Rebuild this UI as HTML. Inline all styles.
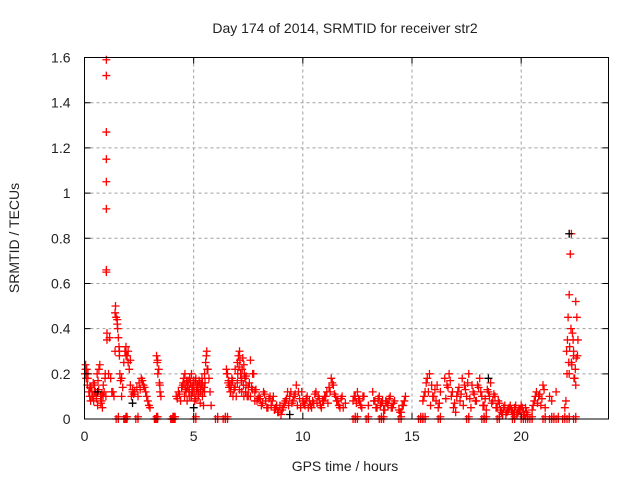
<!DOCTYPE html>
<html><head><meta charset="utf-8"><style>
body{margin:0;background:#fff}
svg text{font-family:"Liberation Sans",sans-serif;font-size:14px;fill:#222}
</style></head><body>
<svg id="chart" width="640" height="480" viewBox="0 0 640 480">
<text x="345" y="33" text-anchor="middle">Day 174 of 2014, SRMTID for receiver str2</text>
<text x="345" y="471" text-anchor="middle">GPS time / hours</text>
<text transform="translate(19,238) rotate(-90)" text-anchor="middle">SRMTID / TECUs</text>
<g id="grid"></g>
<g id="marks"></g>
<g id="marksK"></g>
<rect x="84.5" y="57.5" width="524" height="361.5" fill="none" stroke="#000" stroke-width="1"/>
<g id="axes"></g>
</svg>
<script>
const xTicks=[0,5,10,15,20];
const yTicks=[0,0.2,0.4,0.6,0.8,1,1.2,1.4,1.6];
const yTickLabels=["0","0.2","0.4","0.6","0.8","1","1.2","1.4","1.6"];
const times=[0.02,0.05,0.08,0.1,0.13,0.16,0.2,0.24,0.28,0.3,0.34,0.38,0.42,0.46,0.5,0.54,0.58,0.62,0.66,0.7,0.74,0.78,0.82,0.86,0.9,0.94,0.98,1.0,1.0,1.0,1.0,1.0,1.0,1.0,1.0,1.03,1.03,1.1,1.2,1.3,1.35,1.4,1.42,1.45,1.5,1.52,1.55,1.58,1.6,1.62,1.65,1.7,1.75,1.8,1.85,1.9,1.95,2.0,2.05,2.1,2.15,2.2,2.25,2.3,2.4,2.5,2.6,2.7,2.8,2.9,3.0,3.3,3.33,3.36,3.4,3.43,3.46,3.5,
4.2,4.3,4.4,4.5,4.55,4.6,4.65,4.7,4.75,4.8,4.85,4.9,4.95,5.0,5.05,5.1,5.15,5.2,5.25,5.3,5.35,5.4,5.45,5.5,5.55,5.6,5.65,5.7,5.75,5.8,
6.5,6.55,6.6,6.65,6.7,6.75,6.8,6.9,7.0,7.05,7.1,7.15,7.2,7.25,7.3,7.35,7.4,7.5,7.6,7.7,7.8,7.9,8.0,8.1,8.2,8.3,8.4,8.5,8.6,8.7,8.8,8.9,9.0,9.1,9.2,9.3,9.4,9.5,9.6,9.7,9.8,9.9,10.0,10.1,10.2,10.3,10.4,10.5,10.6,10.7,10.8,10.9,11.0,11.1,11.2,11.3,11.4,11.5,11.6,11.7,11.8,12.3,12.4,12.5,12.6,12.7,12.8,13.0,13.2,13.3,13.4,13.5,13.6,13.7,13.8,13.9,14.0,14.1,14.2,14.4,14.5,14.6,14.7,
15.5,15.6,15.7,15.8,15.9,16.0,16.1,16.2,16.3,16.5,16.6,16.7,16.8,16.9,17.0,17.1,17.2,17.3,17.4,17.5,17.6,17.7,17.8,17.9,18.0,18.1,18.2,18.3,18.4,18.5,18.6,18.7,18.8,18.9,19.0,19.1,19.2,19.3,19.4,19.5,19.6,19.7,19.8,19.9,20.0,20.1,20.2,20.3,20.5,20.6,20.7,20.8,20.9,21.0,21.1,21.3,21.4,21.6,
22.0,22.05,22.1,22.12,22.15,22.2,22.25,22.3,22.35,22.4,22.45,22.5,22.55,22.6,22.4,22.5,22.3,22.2,
1.4,1.45,1.8,1.85,2.35,3.2,3.25,3.95,4.0,4.05,5.0,6.0,6.35,6.45,12.3,12.4,12.9,13.5,13.6,14.4,15.3,15.4,15.5,16.2,17.5,18.2,18.3,18.9,19.6,20.0,20.2,20.4,21.0,21.3,21.4,21.6,21.9,22.1,22.4];
const values=[0.2,0.24,0.18,0.22,0.15,0.2,0.12,0.1,0.08,0.14,0.12,0.1,0.08,0.15,0.12,0.1,0.2,0.17,0.22,0.24,0.1,0.08,0.05,0.15,0.12,0.18,0.1,0.93,1.05,1.15,1.27,1.52,1.59,0.66,0.65,0.38,0.35,0.2,0.18,0.12,0.1,0.47,0.5,0.45,0.42,0.4,0.36,0.32,0.3,0.2,0.17,0.1,0.14,0.25,0.3,0.32,0.28,0.25,0.22,0.15,0.1,0.13,0.11,0.12,0.14,0.16,0.18,0.15,0.12,0.08,0.05,0.28,0.25,0.2,0.22,0.16,0.12,0.1,
0.1,0.12,0.08,0.15,0.18,0.2,0.12,0.14,0.17,0.1,0.16,0.2,0.12,0.15,0.08,0.18,0.14,0.1,0.17,0.12,0.15,0.1,0.06,0.2,0.25,0.3,0.22,0.18,0.12,0.06,
0.22,0.2,0.17,0.15,0.12,0.18,0.1,0.22,0.25,0.28,0.3,0.2,0.12,0.27,0.24,0.18,0.15,0.1,0.26,0.2,0.12,0.08,0.1,0.06,0.12,0.08,0.05,0.1,0.08,0.04,0.06,0.03,0.02,0.05,0.08,0.12,0.1,0.07,0.1,0.15,0.12,0.05,0.08,0.06,0.1,0.08,0.05,0.07,0.12,0.1,0.06,0.08,0.1,0.12,0.14,0.18,0.15,0.1,0.08,0.05,0.1,0.08,0.1,0.12,0.08,0.05,0.1,0.06,0.12,0.08,0.05,0.1,0.07,0.04,0.08,0.06,0.1,0.05,0.08,0.04,0.03,0.06,0.1,0.08,
0.12,0.18,0.2,0.15,0.1,0.08,0.05,0.12,0.18,0.15,0.2,0.1,0.05,0.03,0.12,0.08,0.18,0.15,0.1,0.2,0.05,0.12,0.08,0.15,0.18,0.1,0.06,0.04,0.12,0.16,0.08,0.1,0.05,0.07,0.03,0.05,0.02,0.04,0.06,0.03,0.05,0.02,0.04,0.06,0.03,0.05,0.02,0.04,0.08,0.12,0.1,0.06,0.15,0.05,0.1,0.08,0.12,0.05,
0.08,0.2,0.35,0.45,0.55,0.73,0.82,0.38,0.28,0.18,0.52,0.45,0.35,0.3,0.15,0.25,0.2,0.3,
0,0,0,0,0,0,0,0,0,0,0,0,0,0,0,0,0,0,0,0,0,0,0,0,0,0,0,0,0,0,0,0,0,0,0,0,0,0,0];
const times2=[0.05,0.15,0.25,0.35,0.45,0.55,0.65,0.75,0.85,0.95,0.4,0.6,0.8,1.15,1.25,1.5,1.6,1.7,1.9,2.0,2.1,2.2,2.45,2.55,2.65,2.75,2.85,2.95,3.35,3.45,
4.25,4.35,4.45,4.52,4.58,4.62,4.68,4.72,4.78,4.82,4.88,4.92,4.98,5.02,5.08,5.12,5.18,5.22,5.28,5.32,5.38,5.42,5.48,5.52,5.58,5.62,4.7,4.9,5.1,5.3,5.5,4.6,4.8,5.0,5.2,5.4,
6.52,6.58,6.62,6.68,6.72,6.78,6.85,6.95,7.02,7.08,7.12,7.18,7.22,7.28,7.32,7.38,7.45,7.55,7.65,7.75,7.85,7.95,6.9,7.0,7.1,7.2,7.3,7.4,7.5,7.6,7.7,7.8,
8.05,8.15,8.25,8.35,8.45,8.55,8.65,8.75,8.85,8.95,9.05,9.15,9.25,9.35,9.45,9.55,9.65,9.75,9.85,9.95,10.05,10.15,10.25,10.35,10.45,10.55,10.65,10.75,10.85,10.95,11.05,11.15,11.25,11.35,11.45,11.55,11.65,11.75,11.85,11.95,12.35,12.45,12.55,12.65,12.75,13.25,13.35,13.45,13.55,13.65,13.75,13.85,13.95,14.05,14.15,14.45,14.55,14.65,
15.55,15.65,15.75,15.85,15.95,16.05,16.15,16.25,16.55,16.65,16.75,16.85,16.95,17.05,17.15,17.25,17.35,17.45,17.55,17.65,17.75,17.85,17.95,18.05,18.15,18.25,18.35,18.45,18.55,18.65,18.75,18.85,18.95,19.05,19.15,19.25,19.35,19.45,19.55,19.65,19.75,19.85,19.95,20.05,20.15,20.25,20.55,20.65,20.75,20.85,20.95,21.05,
22.08,22.18,22.28,22.38,22.48,22.58,22.22,22.32,22.42,22.52];
const values2=[0.22,0.18,0.14,0.1,0.12,0.09,0.13,0.07,0.1,0.2,0.16,0.06,0.11,0.36,0.12,0.44,0.28,0.18,0.28,0.3,0.26,0.12,0.1,0.13,0.17,0.14,0.1,0.06,0.26,0.15,
0.09,0.11,0.14,0.16,0.1,0.13,0.17,0.15,0.12,0.18,0.1,0.14,0.16,0.12,0.17,0.13,0.15,0.11,0.16,0.13,0.18,0.12,0.14,0.16,0.28,0.22,0.08,0.1,0.09,0.07,0.12,0.15,0.13,0.17,0.14,0.16,
0.2,0.16,0.14,0.12,0.15,0.17,0.13,0.1,0.2,0.23,0.26,0.18,0.22,0.15,0.2,0.12,0.1,0.16,0.14,0.2,0.13,0.09,0.14,0.16,0.13,0.17,0.1,0.19,0.14,0.1,0.13,0.08,
0.09,0.07,0.11,0.05,0.09,0.06,0.1,0.05,0.03,0.06,0.04,0.07,0.09,0.06,0.12,0.08,0.11,0.06,0.09,0.12,0.07,0.09,0.05,0.06,0.08,0.11,0.07,0.09,0.05,0.08,0.1,0.07,0.12,0.16,0.11,0.08,0.06,0.09,0.05,0.07,0.1,0.07,0.09,0.06,0.1,0.08,0.05,0.09,0.06,0.08,0.04,0.07,0.09,0.05,0.07,0.03,0.06,0.08,
0.1,0.16,0.12,0.06,0.1,0.13,0.15,0.07,0.09,0.14,0.17,0.12,0.07,0.1,0.14,0.11,0.06,0.13,0.16,0.09,0.15,0.11,0.08,0.14,0.12,0.06,0.09,0.13,0.1,0.07,0.11,0.05,0.08,0.04,0.02,0.06,0.03,0.05,0.04,0.02,0.06,0.03,0.04,0.05,0.02,0.03,0.06,0.1,0.07,0.11,0.09,0.13,
0.3,0.25,0.4,0.35,0.22,0.28,0.32,0.24,0.18,0.27];
const blackTimes=[0.6,2.2,5.0,9.4,18.5,22.2];
const blackValues=[0.12,0.07,0.05,0.02,0.18,0.82];
const X0=84.5,X1=608.5,Y0=419,Y1=57.5,XMAX=24,YMAX=1.6;
const xs=t=>X0+(X1-X0)*t/XMAX, ys=v=>Y0-(Y0-Y1)*v/YMAX;
const NS="http://www.w3.org/2000/svg";
function mk(tag,at){const e=document.createElementNS(NS,tag);for(const k in at)e.setAttribute(k,at[k]);return e;}
const grid=document.getElementById('grid'),axes=document.getElementById('axes');
xTicks.forEach((t,i)=>{const x=xs(t);
 if(t>0){const g=mk('line',{x1:x,x2:x,y1:Y1,y2:Y0,stroke:'#a0a0a0','stroke-dasharray':'3,3'});grid.appendChild(g);}
 const tk=mk('path',{d:`M${x},${Y0}v-6M${x},${Y1}v6`,stroke:'#000'});axes.appendChild(tk);
 const l=mk('text',{x:x,y:Y0+22,'text-anchor':'middle'});l.textContent=String(t);axes.appendChild(l);});
yTicks.forEach((v,i)=>{const y=ys(v);
 if(v>0&&v<1.6){const g=mk('line',{x1:X0,x2:X1,y1:y,y2:y,stroke:'#a0a0a0','stroke-dasharray':'3,3'});grid.appendChild(g);}
 const tk=mk('path',{d:`M${X0},${y}h6M${X1},${y}h-6`,stroke:'#000'});axes.appendChild(tk);
 const l=mk('text',{x:X0-14,y:y+5,'text-anchor':'end'});l.textContent=yTickLabels[i];axes.appendChild(l);});
function plus(g,t,v,c){const x=xs(t),y=ys(v);const p=mk('path',{d:`M${x-4},${y}h8M${x},${y-4}v8`,stroke:c,'stroke-width':1.3});
 
 
 g.appendChild(p);}
const m=document.getElementById('marks');
times.forEach((t,i)=>{plus(m,t,values[i],'#ff0000');if(values[i]===0){plus(m,t+0.1,0,'#ff0000');plus(m,t+0.1,0.01,'#ff0000');}});
times2.forEach((t,i)=>plus(m,t,values2[i],'#ff0000'));
const mK=document.getElementById('marksK');
blackTimes.forEach((t,i)=>plus(mK,t,blackValues[i],'#000'));
</script>
</body></html>
